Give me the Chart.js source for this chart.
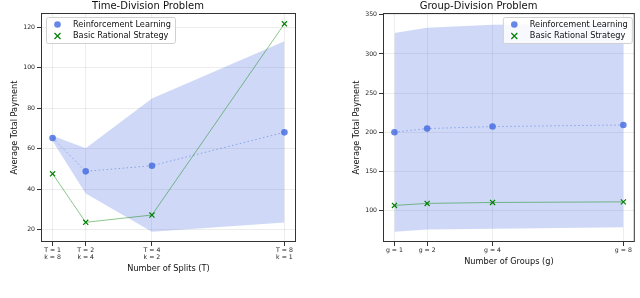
<!DOCTYPE html>
<html>
<head>
<meta charset="utf-8">
<script src="https://cdn.jsdelivr.net/npm/chart.js@4"></script>
<style>
  body { margin: 0; background: #fff; }
  .box { position: absolute; top: 0; width: 320px; height: 298px; }
</style>
</head>
<body>
<div class="box" style="left:0"><canvas id="timeChart"></canvas></div>
<div class="box" style="left:320px"><canvas id="groupChart"></canvas></div>
<script>
// time-division problem
const splits = [1, 2, 4, 8];
const splitK = [8, 4, 2, 1];
const timeRL = [65.3, 48.8, 51.6, 68.1];
const timeRLUpper = [66.4, 60.2, 84.8, 113.2];
const timeRLLower = [63.8, 37.8, 18.9, 23.5];
const timeBasic = [47.6, 23.6, 27.2, 121.8];
const timeYTicks = [20, 40, 60, 80, 100, 120];

// group-division problem
const groups = [1, 2, 4, 8];
const groupRL = [200, 204.6, 207.2, 209.2];
const groupRLUpper = [326.6, 333.6, 337.4, 339];
const groupRLLower = [72.8, 75.6, 76.6, 78.4];
const groupBasic = [106.4, 109, 110.2, 111];
const groupYTicks = [100, 150, 200, 250, 300, 350];

const FONT = "'DejaVu Sans', sans-serif";
const BLUE = "rgba(65,105,225,0.8)";

const pts = (xs, ys) => xs.map((x, i) => ({ x: x, y: ys[i] }));

// frame + legend drawn over the plot area
const framePlugin = {
    id: "frame",
    afterDraw(chart, args, opts) {
        const ctx = chart.ctx;
        const a = chart.chartArea;
        ctx.save();
        ctx.strokeStyle = "#333";
        ctx.lineWidth = 1;
        ctx.strokeRect(a.left + 0.5, a.top + 0.5, a.right - a.left - 1, a.bottom - a.top - 1);

        // legend
        const w = 129, h = 26;
        const x = opts.side === "left" ? a.left + 5 : a.right - w - 3;
        const y = a.top + 4;
        ctx.fillStyle = "rgba(255,255,255,0.85)";
        ctx.strokeStyle = "#d0d0d0";
        ctx.beginPath();
        ctx.roundRect(x + 0.5, y + 0.5, w, h, 2);
        ctx.fill();
        ctx.stroke();

        const labels = chart.data.datasets.filter(d => d.legend);
        ctx.font = "8.2px " + FONT;
        ctx.textBaseline = "middle";
        labels.forEach((d, i) => {
            const cy = y + 7.5 + i * 11.5;
            const cx = x + 11.5;
            if (d.pointStyle === "circle") {
                ctx.fillStyle = BLUE;
                ctx.beginPath();
                ctx.arc(cx, cy, 3.3, 0, Math.PI * 2);
                ctx.fill();
            } else {
                ctx.strokeStyle = "#008000";
                ctx.lineWidth = 1.2;
                ctx.beginPath();
                ctx.moveTo(cx - 3, cy - 3); ctx.lineTo(cx + 3, cy + 3);
                ctx.moveTo(cx - 3, cy + 3); ctx.lineTo(cx + 3, cy - 3);
                ctx.stroke();
            }
            ctx.fillStyle = "#111";
            ctx.fillText(d.label, x + 27, cy);
        });
        ctx.restore();
    }
};

function makeChart(id, cfg) {
    const xs = cfg.xs;
    new Chart(document.getElementById(id), {
        type: "line",
        data: {
            datasets: [
                {
                    label: "Reinforcement Learning",
                    legend: true,
                    data: pts(xs, cfg.rl),
                    borderColor: "rgba(65,105,225,0.5)",
                    borderWidth: 1,
                    borderDash: [1.5, 2.5],
                    pointStyle: "circle",
                    pointRadius: 3.3,
                    pointBackgroundColor: BLUE,
                    pointBorderWidth: 0,
                    order: 1
                },
                {
                    label: "Basic Rational Strategy",
                    legend: true,
                    data: pts(xs, cfg.basic),
                    borderColor: "rgba(0,128,0,0.45)",
                    borderWidth: 1,
                    pointStyle: "crossRot",
                    pointRadius: 3.6,
                    pointBorderColor: "#008000",
                    pointBorderWidth: 1.2,
                    order: 0
                },
                {
                    label: "upper",
                    data: pts(xs, cfg.upper),
                    borderWidth: 0,
                    pointRadius: 0,
                    backgroundColor: "rgba(65,105,225,0.25)",
                    fill: "+1",
                    order: 5
                },
                {
                    label: "lower",
                    data: pts(xs, cfg.lower),
                    borderWidth: 0,
                    pointRadius: 0,
                    fill: false,
                    order: 6
                }
            ]
        },
        options: {
            responsive: false,
            animation: false,
            events: [],
            layout: { padding: { left: 0, right: cfg.padRight, top: 0, bottom: 0 } },
            plugins: {
                legend: { display: false },
                tooltip: { enabled: false },
                title: {
                    display: true,
                    text: cfg.title,
                    color: "#111",
                    font: { family: FONT, size: 10, weight: "normal" },
                    padding: { top: 0, bottom: 1 }
                },
                frame: { side: cfg.legendSide }
            },
            scales: {
                x: {
                    type: "linear",
                    min: 0.65,
                    max: 8.35,
                    afterBuildTicks: s => { s.ticks = xs.map(v => ({ value: v })); },
                    afterFit: s => { s.height = 56; },
                    ticks: {
                        autoSkip: false,
                        maxRotation: 0,
                        padding: 1,
                        color: "#222",
                        font: { family: FONT, size: 6.2, lineHeight: 1.1 },
                        callback: cfg.xLabel
                    },
                    grid: { color: "rgba(0,0,0,0.07)", tickColor: "#333", tickLength: 4 },
                    border: { display: false },
                    title: {
                        display: true,
                        text: cfg.xTitle,
                        color: "#111",
                        font: { family: FONT, size: 8.2 },
                        padding: { top: 0, bottom: cfg.xTitlePad }
                    }
                },
                y: {
                    min: cfg.yMin,
                    max: cfg.yMax,
                    afterBuildTicks: s => { s.ticks = cfg.yTicks.map(v => ({ value: v })); },
                    afterFit: s => { s.width = cfg.yWidth; },
                    ticks: {
                        padding: 2,
                        color: "#222",
                        font: { family: FONT, size: 6.2 }
                    },
                    grid: { color: "rgba(0,0,0,0.07)", tickColor: "#333", tickLength: 4 },
                    border: { display: false },
                    title: {
                        display: true,
                        text: "Average Total Payment",
                        color: "#111",
                        font: { family: FONT, size: 8.2 },
                        padding: { top: cfg.yTitlePad, bottom: 0 }
                    }
                }
            }
        },
        plugins: [framePlugin]
    });
}

document.getElementById("timeChart").width = 320;
document.getElementById("timeChart").height = 298;
document.getElementById("groupChart").width = 320;
document.getElementById("groupChart").height = 298;

makeChart("timeChart", {
    xs: splits,
    rl: timeRL, upper: timeRLUpper, lower: timeRLLower, basic: timeBasic,
    yTicks: timeYTicks, yMin: 13.85, yMax: 127.15,
    title: "Time-Division Problem",
    xTitle: "Number of Splits (T)",
    xLabel: (v) => { const i = splits.indexOf(v); return ["T = " + v, "k = " + splitK[i]]; },
    xTitlePad: 24,
    yWidth: 41, yTitlePad: 10, padRight: 24,
    legendSide: "left"
});

makeChart("groupChart", {
    xs: groups,
    rl: groupRL, upper: groupRLUpper, lower: groupRLLower, basic: groupBasic,
    yTicks: groupYTicks, yMin: 59.7, yMax: 352.3,
    title: "Group-Division Problem",
    xTitle: "Number of Groups (g)",
    xLabel: (v) => "g = " + v,
    xTitlePad: 31,
    yWidth: 63, yTitlePad: 32, padRight: 3,
    legendSide: "right"
});
</script>
</body>
</html>
